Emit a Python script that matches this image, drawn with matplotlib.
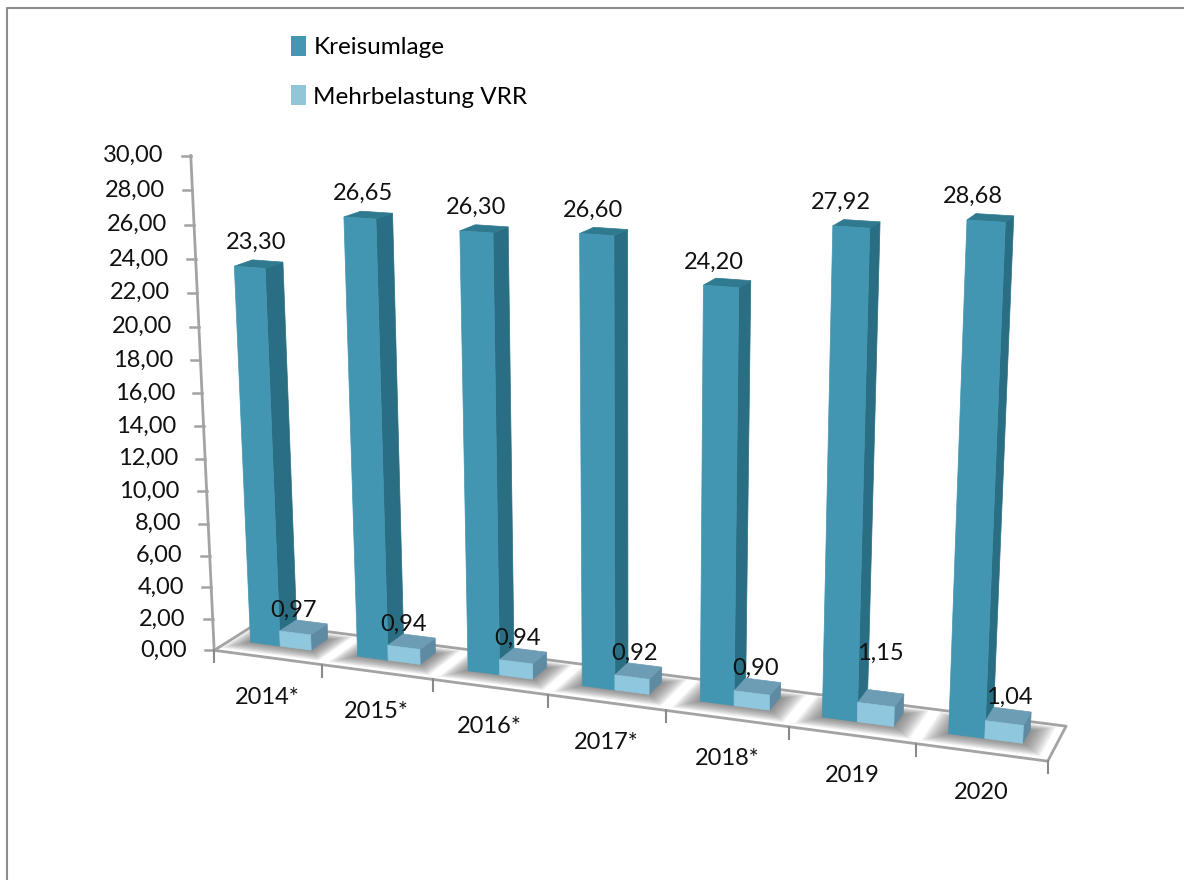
import numpy as np
import matplotlib
matplotlib.use("Agg")
import matplotlib.pyplot as plt
from matplotlib.patches import Patch, Polygon

years = ["2014*", "2015*", "2016*", "2017*", "2018*", "2019", "2020"]
kreisumlage = [23.30, 26.65, 26.30, 26.60, 24.20, 27.92, 28.68]
mehrbelastung = [0.97, 0.94, 0.94, 0.92, 0.90, 1.15, 1.04]
y_ticks = list(range(0, 31, 2))


def de(v):
    return f"{v:.2f}".replace(".", ",")


# camera of the fake 3d chart: floor points, then verticals measured on the picture
floor_uv = [(0, 0), (1, 0), (2, 0), (3, 0), (4, 0), (5, 0), (6, 0), (7, 0), (7, 1), (0, 1)]
floor_px = [(214, 650), (322, 665), (433, 680), (547, 695), (666, 711), (789, 727), (916, 743),
            (1048, 760), (1066, 727), (258, 622)]
vertical_px = [
    ((214, 650), (190, 156), 30),
    ((214, 650), (203, 427), 14),
    ((354, 659), (342, 219), 26.65),
    ((950, 736), (968, 219), 28.68),
    ((249, 645), (232, 268), 23.30),
]


def solve_camera():
    A, b = [], []
    for (u, w), (x, y) in zip(floor_uv, floor_px):
        A.append([u, w, 1, 0, 0, 0, -x * u, -x * w])
        A.append([0, 0, 0, u, w, 1, -y * u, -y * w])
        b += [x, y]
    sol = np.linalg.lstsq(np.array(A, float), np.array(b, float), rcond=None)[0]
    H = np.append(sol, 1).reshape(3, 3)
    Hinv = np.linalg.inv(H)
    A, b = [], []
    for floor, top, v in vertical_px:
        X = Hinv @ np.array([floor[0], floor[1], 1.0])
        X = X / X[2]
        n = H @ X
        x, y = top
        A.append([v, 0, -x * v])
        A.append([0, v, -y * v])
        b += [x * n[2] - n[0], y * n[2] - n[1]]
    c = np.linalg.lstsq(np.array(A), np.array(b), rcond=None)[0]
    return H, c


H, C = solve_camera()


def proj(u, w, v=0.0):
    X = np.array([u, w, 1.0])
    n = H @ X + C * v
    return n[0] / n[2], n[1] / n[2]


def box(ax, u0, u1, w0, w1, v, front, side, top, z):
    ax.add_patch(Polygon([proj(u1, w0), proj(u1, w1), proj(u1, w1, v), proj(u1, w0, v)],
                         fc=side, ec=side, lw=0.5, zorder=z))
    ax.add_patch(Polygon([proj(u0, w0, v), proj(u1, w0, v), proj(u1, w1, v), proj(u0, w1, v)],
                         fc=top, ec=top, lw=0.5, zorder=z))
    ax.add_patch(Polygon([proj(u0, w0), proj(u1, w0), proj(u1, w0, v), proj(u0, w0, v)],
                         fc=front, ec=front, lw=0.5, zorder=z))


plt.rcParams["font.family"] = ["Lato", "DejaVu Sans"]
fig = plt.figure(figsize=(11.84, 8.8), dpi=100)
ax = fig.add_axes([0, 0, 1, 1])
ax.set_xlim(0, 1184)
ax.set_ylim(880, 0)
ax.axis("off")

# outer frame
ax.plot([7, 7, 1184], [880, 8.5, 8.5], color="#8c8c8c", lw=1.5)

grey = "#a3a3a3"
ax.plot(*zip(proj(0, 0), proj(0, 0, 30)), color=grey, lw=2, zorder=5)
ax.plot(*zip(proj(0, 0), proj(7, 0), proj(7, 1), proj(0, 1), proj(0, 0)), color=grey, lw=2, zorder=1)
for t in y_ticks:
    x, y = proj(0, 0, t)
    ax.plot([x - 9, x], [y, y], color=grey, lw=1.8, zorder=5)
    ax.text(x - 27, y, de(t), ha="right", va="center", fontsize=17, color="#111111")

for i in range(8):
    x, y = proj(i, 0)
    ax.plot([x, x], [y, y + 12], color="#8a8a8a", lw=1.5, zorder=5)

# soft floor shadows
for i in range(7):
    for k in range(14):
        d = k / 13
        u0, u1 = i + 0.02 + 0.16 * d, i + 0.93 - 0.16 * d
        w0, w1 = 0.10 + 0.28 * d, 0.95 - 0.2 * d
        ax.add_patch(Polygon([proj(u0, w0), proj(u1, w0), proj(u1, w1), proj(u0, w1)],
                             fc="#606060", ec="none", alpha=0.075, zorder=2))

small_nudge = [0, 0, 0, 0, 0, 26, 0]
for i, (a, b) in enumerate(zip(kreisumlage, mehrbelastung)):
    box(ax, i + 0.185, i + 0.465, 0.38, 0.78, a, "#4396b1", "#2a6e83", "#2f7a8f", 3)
    box(ax, i + 0.465, i + 0.755, 0.38, 0.78, b, "#8fc8de", "#5f8ba2", "#6c9db4", 4)
    x, y = proj(i + 0.325, 0.38, a)
    ax.text(x + 6 - 3.2 * i, y - 24.5, de(a), ha="center", va="center", fontsize=17, color="#111111", zorder=6)
    x, y = proj(i + 0.61, 0.78, b)
    ax.text(x - 18 + 2.5 * i, y - 12 - small_nudge[i], de(b), ha="center", va="center", fontsize=17,
            color="#111111", zorder=6)
    x, y = proj(i + 0.5, 0)
    ax.text(x, y + 40, years[i], ha="center", va="center", fontsize=17, color="#111111")

ax.legend(handles=[Patch(fc="#4397b2", label="Kreisumlage"), Patch(fc="#93c5d8", label="Mehrbelastung VRR")],
          loc="upper left", bbox_to_anchor=(291, 36), bbox_transform=ax.transData, frameon=False,
          fontsize=17.5, handlelength=0.62, handleheight=0.9, handletextpad=0.3,
          labelspacing=1.1, borderpad=0, borderaxespad=0)

fig.savefig("out.png", dpi=100)
